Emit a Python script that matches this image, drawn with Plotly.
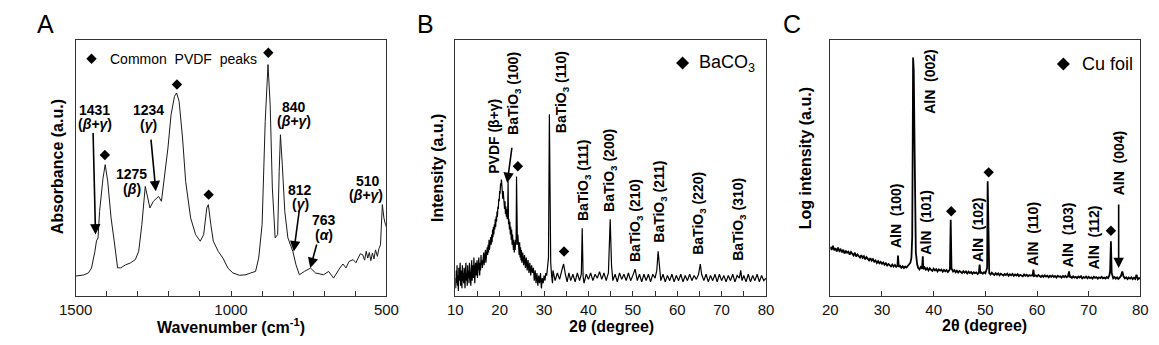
import plotly.graph_objects as go


def grid(start, step, n):
    """Sampling positions of an evenly stepped scan segment."""
    return [round(start + step * i, 3) for i in range(n)]


# ---------------- Panel A: FTIR ----------------
A_wavenumber = [1500, 1475, 1459, 1449, 1438, 1433, 1428, 1423, 1412, 1405, 1397, 1386, 1376, 1365, 1355,
                1339, 1324, 1308, 1297, 1287, 1276, 1268, 1261, 1250, 1240, 1233, 1224, 1214, 1203, 1193,
                1182, 1175, 1167, 1156, 1146, 1130, 1114, 1099, 1088, 1078, 1073, 1065, 1057, 1041, 1026,
                1010, 994, 973, 952, 937, 921, 911, 900, 890, 881, 874, 867, 858, 850, 845,
                841, 835, 827, 817, 801, 791, 780, 764, 744, 728, 702, 686, 670, 650, 640,
                630, 620, 607, 598, 591, 584, 576, 570, 565, 560, 555, 550, 545, 540, 535,
                529, 524, 519, 513, 508, 503, 500]
A_absorbance = [7.8, 8.2, 9.0, 10.9, 17.5, 21.5, 22.7, 33.0, 46.0, 51.3, 45.0, 30.5, 21.5, 11.0, 11.0,
                12.2, 12.9, 14.2, 17.5, 27.9, 42.8, 38.3, 34.4, 37.0, 38.3, 38.9, 37.0, 46.1, 57.8, 70.8,
                78.0, 79.3, 76.0, 61.7, 44.8, 30.5, 24.0, 21.4, 24.0, 34.4, 35.7, 27.9, 21.4, 17.4, 14.8,
                10.9, 9.0, 8.1, 8.3, 9.0, 9.6, 14.8, 27.9, 68.2, 90.4, 74.7, 42.2, 22.7, 24.0, 48.7,
                63.0, 51.3, 33.1, 22.7, 17.4, 12.2, 8.3, 9.6, 10.9, 9.0, 8.3, 9.6, 7.0, 10.9, 12.5,
                11.0, 13.5, 14.2, 13.0, 14.8, 16.5, 16.1, 14.0, 17.5, 14.8, 17.0, 13.8, 16.8, 14.5, 18.0,
                15.5, 18.5, 20.0, 35.7, 30.5, 27.9, 27.0]
A_marker_wn = [1406, 1174, 1072, 880]
A_marker_h = [55.1, 82.6, 39.6, 95.0]

# ---------------- Panel B: XRD BaTiO3/PVDF ----------------
B_seg1 = [7, 3, 10, 5, 12, 4, 8, 2, 11, 6, 9, 13, 4, 7, 10, 3, 12, 6, 9, 5,
          11, 8, 3, 10, 13, 6, 9, 4, 12, 7,
          10, 5, 13, 8, 11, 4, 9, 14, 6, 10,
          12, 7, 15, 9, 5, 11, 13, 8, 10, 14,
          7, 12, 9, 15, 11, 8, 13, 10, 16, 12, 14]                      # 10.0 .. 16.0
B_seg2 = [11, 15, 13, 17, 12, 16, 14, 18, 13, 17,
          15, 19, 16, 20, 17, 22, 18, 21, 19, 23,
          20, 24, 21, 26, 23, 27, 24, 28, 26, 30,
          27, 31, 29, 33, 31, 35, 34, 38, 37, 41,
          40, 44]                                                        # 16.1 .. 20.2
B_seg3 = [43, 45.5, 41, 43, 38, 41, 36, 38, 34, 37,
          32, 35, 31, 34, 30, 32, 44.8, 28, 30, 26,
          29, 24, 27, 22, 26, 20, 24, 21, 18, 22,
          17, 21, 18, 22, 20, 46.7, 24, 20, 24, 18,
          22, 16, 21, 15, 19, 14, 18, 13]                                # 20.3 .. 25.0
B_seg4 = [17, 12, 16, 11, 15, 10, 14, 9, 13, 8,
          12, 9, 11, 6, 10, 5, 9, 4, 8, 5,
          9, 3, 7, 5, 8, 6, 9, 8, 11]                                    # 25.2 .. 30.8
B_tail_2theta = [31.0, 31.2, 31.35, 31.5, 31.7, 31.9,
                 32.0, 32.5, 33.0, 33.5, 34.0, 34.4, 34.8, 35.2, 35.6, 36.0, 36.5, 37.0, 37.5, 38.0, 38.4,
                 38.6, 38.8, 39.0, 39.5, 40.0, 40.5, 41.0, 41.5, 42.0, 42.5, 43.0, 43.5, 44.0, 44.5, 44.9,
                 45.2, 45.5, 46.0, 46.5, 47.0, 47.5, 48.0, 48.5, 49.0, 49.5, 50.0, 50.5, 51.0, 51.5, 52.0,
                 52.5, 53.0, 53.5, 54.0, 54.5, 55.0, 55.4, 55.7, 56.0, 56.3, 56.8, 57.3, 57.8, 58.3, 58.8,
                 59.3, 59.8, 60.3, 60.8, 61.3, 61.8, 62.3, 62.8, 63.3, 63.8, 64.3, 64.8, 65.2, 65.5, 66.0,
                 66.5, 67.0, 67.5, 68.0, 68.5, 69.0, 69.5, 70.0, 70.5, 71.0, 71.5, 72.0, 72.5, 73.0, 73.5,
                 74.0, 74.3, 74.6, 75.0, 75.5, 76.0, 76.5, 77.0, 77.5, 78.0, 78.5, 79.0, 79.5, 80.0]
B_tail_intensity = [15, 71, 30, 13, 8, 5,
                    10, 6, 9, 6.5, 10, 12.5, 8.5, 5.5, 9, 6, 8.5, 5.5, 9, 6, 8.5,
                    26.5, 7.5, 5, 8.5, 6.5, 9, 6, 8.5, 7, 9.5, 6.5, 9, 6, 9, 30,
                    12, 6, 8.5, 5.5, 9, 6.5, 8.5, 6, 9, 6, 8, 10.5, 6, 8.5, 5.5,
                    8.5, 6, 8.5, 5.5, 8.5, 7, 10, 17.5, 9.5, 6, 8.5, 5.5, 8, 6, 8.5,
                    5.5, 8, 6, 8.5, 5.5, 8, 6, 8.5, 6, 8, 6.5, 8.5, 12.5, 8.5, 6,
                    8.5, 5.5, 8, 6, 8.5, 5.5, 8.5, 6, 8, 5.5, 8, 6, 8.5, 5.5, 8,
                    7, 10, 6, 8, 5.5, 8.5, 5.5, 8, 6, 8.5, 5.5, 8, 6, 7]
B_2theta = (grid(10.0, 0.1, len(B_seg1)) + grid(16.1, 0.1, len(B_seg2)) +
            grid(20.3, 0.1, len(B_seg3)) + grid(25.2, 0.2, len(B_seg4)) + B_tail_2theta)
B_intensity = B_seg1 + B_seg2 + B_seg3 + B_seg4 + B_tail_intensity
B_marker_2theta = [24.1, 34.5]
B_marker_h = [50.7, 17.4]

# ---------------- Panel C: XRD AlN on Cu ----------------
C_segments = [
    # (start, step, values)
    (20.0, 0.25, [19.2, 18.0, 19.6, 17.9, 18.6, 17.4, 18.9, 17.6, 18.2,
                  17.0, 18.1, 16.6, 17.7, 16.9, 17.3, 16.2, 17.2,
                  16.4, 15.8, 16.9, 15.4, 16.2, 15.6, 15.0, 16.0,
                  14.9, 15.5, 14.3, 15.2, 14.6, 13.9, 14.8, 13.8,
                  14.4, 13.4, 13.9, 12.9, 13.6, 12.8, 13.3, 12.6,
                  13.1, 12.2, 12.8, 11.9, 12.5, 12.0, 11.6, 12.3,
                  11.5, 12.1, 11.4, 11.9]),
    (33.1, 0.15, [15.8, 11.4]),
    (33.5, 0.25, [11.8, 11.0, 11.6, 10.9, 11.5, 11.1, 11.7, 12.2, 13.0]),
]
C_peak_2theta = [35.7, 35.85, 35.95, 36.02, 36.15, 36.3, 36.4, 36.55, 36.8]
C_peak_int = [15.0, 23.0, 60.0, 93.2, 88.0, 60.0, 30.0, 17.0, 12.5]
C_segments2 = [
    (37.0, 0.25, [11.0, 10.4, 11.3, 10.7]),
    (37.9, 0.1, [15.5]),
    (38.0, 0.25, [10.5, 11.2, 10.3, 10.9, 10.0, 10.8, 10.2, 9.8, 10.7, 10.0, 10.5, 9.6, 10.4, 9.9,
                  10.3, 9.5, 10.2, 9.7, 10.1, 9.4, 10.0]),
    (43.15, 0.15, [10.5, 29.8, 10.8]),
    (43.75, 0.25, [9.6, 10.1, 9.3, 9.9, 9.2, 9.8, 9.4, 9.0, 9.7, 9.1, 9.6, 8.8, 9.5, 9.0, 9.4, 8.7,
                   9.3, 8.9, 9.2, 8.6, 9.1]),
    (48.9, 0.15, [12.3, 8.8]),
    (49.25, 0.25, [9.2, 8.7, 9.3, 8.9, 10.0]),
    (50.35, 0.1, [11.0, 44.8, 30.0, 12.0]),
    (50.75, 0.25, [9.0, 8.4, 9.1, 8.6, 8.2, 8.9, 8.3, 8.8, 8.1, 8.7, 8.4, 8.0, 8.6, 8.2, 8.7, 7.9, 8.5,
                   8.1, 8.6, 7.9, 8.4, 8.0, 8.5, 7.8, 8.3, 8.0, 7.7, 8.4, 7.9, 8.3, 7.7, 8.2, 7.9, 8.1]),
    (59.15, 0.15, [8.0, 10.3, 7.8]),
    (59.75, 0.25, [8.1, 7.6, 8.2, 7.7, 7.4, 8.0, 7.5, 8.1, 7.6, 7.9, 7.3, 7.9, 7.5, 8.0, 7.4, 7.8, 7.2,
                   7.9, 7.5, 7.7, 7.2, 7.8, 7.4, 7.9, 7.3, 7.7]),
    (66.2, 0.15, [9.6, 7.3]),
    (66.5, 0.25, [7.6, 7.1, 7.7, 7.2, 7.5, 7.0, 7.6, 7.2, 7.7, 6.9, 7.4, 7.1, 7.6, 6.9, 7.5, 7.0, 7.3,
                  6.8, 7.5, 7.1, 7.4, 6.8, 7.3, 7.0, 7.5, 6.9, 7.2, 6.8, 7.4, 7.0, 8.0]),
    (74.15, 0.15, [10.0, 21.4, 9.0]),
    (74.75, 0.25, [6.9, 7.4, 6.8, 7.3, 6.7, 7.2, 7.9, 9.6, 7.6, 6.9, 7.3, 6.6, 7.2, 6.8, 7.3, 6.6, 7.1,
                   6.7, 8.3, 6.5, 7.0, 6.8]),
]
C_2theta, C_intensity = [], []
for s, st, vals in C_segments:
    C_2theta += grid(s, st, len(vals)); C_intensity += vals
C_2theta += C_peak_2theta; C_intensity += C_peak_int
for s, st, vals in C_segments2:
    C_2theta += grid(s, st, len(vals)); C_intensity += vals
C_marker_2theta = [43.4, 50.65, 74.3]
C_marker_h = [33.1, 48.3, 25.5]

assert len(A_wavenumber) == len(A_absorbance)
assert len(B_2theta) == len(B_intensity)
assert len(C_2theta) == len(C_intensity)

FONT = "Liberation Sans, Arial, sans-serif"
BLACK = "#000000"

fig = go.Figure()
fig.add_trace(go.Scatter(x=A_wavenumber, y=A_absorbance, mode="lines",
                         line=dict(color="#1a1a1a", width=1), xaxis="x", yaxis="y"))
fig.add_trace(go.Scatter(x=A_marker_wn, y=A_marker_h, mode="markers",
                         marker=dict(symbol="diamond", size=8, color=BLACK), xaxis="x", yaxis="y"))
fig.add_trace(go.Scatter(x=B_2theta, y=B_intensity, mode="lines",
                         line=dict(color=BLACK, width=1.2), xaxis="x2", yaxis="y2"))
fig.add_trace(go.Scatter(x=B_marker_2theta, y=B_marker_h, mode="markers",
                         marker=dict(symbol="diamond", size=8, color=BLACK), xaxis="x2", yaxis="y2"))
fig.add_trace(go.Scatter(x=C_2theta, y=C_intensity, mode="lines",
                         line=dict(color=BLACK, width=1.8), xaxis="x3", yaxis="y3"))
fig.add_trace(go.Scatter(x=C_marker_2theta, y=C_marker_h, mode="markers",
                         marker=dict(symbol="diamond", size=8, color=BLACK), xaxis="x3", yaxis="y3"))
# legend diamonds
fig.add_trace(go.Scatter(x=[1449], y=[92.7], mode="markers",
                         marker=dict(symbol="diamond", size=8, color=BLACK), xaxis="x", yaxis="y"))
fig.add_trace(go.Scatter(x=[61.2], y=[91.0], mode="markers",
                         marker=dict(symbol="diamond", size=10, color=BLACK), xaxis="x2", yaxis="y2"))
fig.add_trace(go.Scatter(x=[65.1], y=[90.6], mode="markers",
                         marker=dict(symbol="diamond", size=10, color=BLACK), xaxis="x3", yaxis="y3"))

ydom = [0.1652, 0.9072]
common_x = dict(showline=True, linecolor="#333", linewidth=1, mirror=True, ticks="inside",
                ticklen=5, tickcolor="#333", showgrid=False, zeroline=False,
                tickfont=dict(family=FONT, size=15, color="#111"))
common_y = dict(showline=True, linecolor="#333", linewidth=1, mirror=True, showticklabels=False,
                ticks="", showgrid=False, zeroline=False, range=[0, 100], domain=ydom)

layout = dict(
    width=1159, height=345, margin=dict(l=0, r=0, t=0, b=0),
    paper_bgcolor="white", plot_bgcolor="white", showlegend=False,
    font=dict(family=FONT, color=BLACK),
    xaxis=dict(common_x, domain=[52/1159, 371/1159], range=[1500, 500], tickvals=[1500, 1000, 500],
               minor=dict(dtick=100, ticks="inside", ticklen=5, tickcolor="#333"), anchor="y"),
    yaxis=dict(common_y, anchor="x"),
    xaxis2=dict(common_x, domain=[441.7/1159, 760.7/1159], range=[10, 80], dtick=10,
                minor=dict(dtick=5, ticks="inside", ticklen=5, tickcolor="#333"), anchor="y2"),
    yaxis2=dict(common_y, anchor="x2"),
    xaxis3=dict(common_x, domain=[826.7/1159, 1145/1159], range=[20, 80], dtick=10, anchor="y3"),
    yaxis3=dict(common_y, anchor="x3"),
)
fig.update_layout(**layout)

ann = []


def txt(x, y, t, xref, yref, size=14, bold=True, angle=0, xanchor="center", yanchor="middle"):
    s = f"<b>{t}</b>" if bold else t
    ann.append(dict(x=x, y=y, xref=xref, yref=yref, text=s, showarrow=False, textangle=angle,
                    xanchor=xanchor, yanchor=yanchor, font=dict(family=FONT, size=size, color=BLACK)))


def arrow(xt, yt, xa, ya, xref, yref):
    ann.append(dict(x=xt, y=yt, ax=xa, ay=ya, xref=xref, yref=yref, axref=xref, ayref=yref,
                    text="", showarrow=True, arrowhead=2, arrowsize=1.3, arrowwidth=1.6,
                    arrowcolor=BLACK))


# Panel letters
txt(21/1159, 1 - 16/345, "A", "paper", "paper", size=25, bold=False)
txt(411/1159, 1 - 16/345, "B", "paper", "paper", size=25, bold=False)
txt(787/1159, 1 - 16/345, "C", "paper", "paper", size=25, bold=False)

# Axis titles
txt(33/1159, 1 - 159/345, "Absorbance (a.u.)", "paper", "paper", size=16, angle=-90)
txt(423/1159, 1 - 160/345, "Intensity (a.u.)", "paper", "paper", size=16, angle=-90)
txt(802/1159, 1 - 150/345, "Log intensity (a.u.)", "paper", "paper", size=16, angle=-90)
txt(211/1159, 1 - 318/345, "Wavenumber (cm<sup>-1</sup>)", "paper", "paper", size=16)
txt(602/1159, 1 - 318/345, "2θ (degree)", "paper", "paper", size=16)
txt(985/1159, 1 - 317/345, "2θ (degree)", "paper", "paper", size=16)

# Panel A labels
txt(1397, 92.7, "Common  PVDF  peaks", "x", "y", size=14, bold=False, xanchor="left")
txt(1438, 72.8, "1431", "x", "y")
txt(1438, 67.2, "(<i>β</i>+<i>γ</i>)", "x", "y")
txt(1264, 72.8, "1234", "x", "y")
txt(1264, 66.7, "(<i>γ</i>)", "x", "y")
txt(1320, 47.7, "1275", "x", "y")
txt(1318, 41.9, "(<i>β</i>)", "x", "y")
txt(796, 73.7, "840", "x", "y")
txt(796, 68.2, "(<i>β</i>+<i>γ</i>)", "x", "y")
txt(777, 41.5, "812", "x", "y")
txt(775, 36.1, "(<i>γ</i>)", "x", "y")
txt(700, 29.8, "763", "x", "y")
txt(700, 24.0, "(<i>α</i>)", "x", "y")
txt(560, 44.8, "510", "x", "y")
txt(566, 39.6, "(<i>β</i>+<i>γ</i>)", "x", "y")
arrow(1436, 24.0, 1444, 64.3, "x", "y")
arrow(1242, 40.9, 1258, 61.7, "x", "y")
arrow(798, 17.4, 780, 33.7, "x", "y")
arrow(745, 10.9, 723, 20.7, "x", "y")

# Panel B labels
txt(64.5, 91.0, "BaCO<sub>3</sub>", "x2", "y2", size=18, bold=False, xanchor="left")
txt(18.8, 46.9, "PVDF (β+γ)", "x2", "y2", angle=-90, yanchor="bottom")
B_labels = [(23.1, 62.1, "(100)"), (34.1, 62.9, "(110)"), (38.9, 28.5, "(111)"),
            (44.7, 32.0, "(200)"), (50.6, 12.5, "(210)"), (56.1, 20.0, "(211)"),
            (64.9, 15.5, "(220)"), (74.0, 12.9, "(310)")]
for x, y, hkl in B_labels:
    txt(x, y, f"BaTiO<sub>3</sub> {hkl}", "x2", "y2", angle=-90, yanchor="bottom")
arrow(21.7, 44.1, 22.8, 58.5, "x2", "y2")

# Panel C labels
txt(68.4, 90.6, "Cu foil", "x3", "y3", size=18, bold=False, xanchor="left")
C_labels = [(39.3, 70.2, "(002)"), (32.7, 18.1, "(100)"), (38.5, 15.5, "(101)"),
            (48.5, 12.5, "(102)"), (59.3, 11.2, "(110)"), (66.0, 10.3, "(103)"),
            (71.2, 9.6, "(112)"), (75.8, 38.6, "(004)")]
for x, y, hkl in C_labels:
    txt(x, y, f"AlN  {hkl}", "x3", "y3", angle=-90, yanchor="bottom")
arrow(75.8, 10.9, 75.8, 36.3, "x3", "y3")

fig.update_layout(annotations=ann)
fig.write_html("out.html")
